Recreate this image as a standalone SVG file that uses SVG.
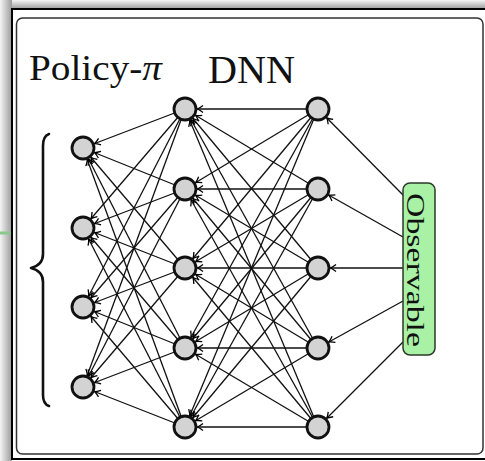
<svg xmlns="http://www.w3.org/2000/svg" width="485" height="461" viewBox="0 0 485 461">
<defs>
<linearGradient id="gt" x1="0" y1="0" x2="0" y2="1"><stop offset="0" stop-color="#f4f4f4"/><stop offset="1" stop-color="#9a9a9a"/></linearGradient>
<linearGradient id="gl" x1="0" y1="0" x2="1" y2="0"><stop offset="0" stop-color="#f4f4f4"/><stop offset="1" stop-color="#9a9a9a"/></linearGradient>
<marker id="ar" markerUnits="userSpaceOnUse" orient="auto" refX="0" refY="0" markerWidth="1" markerHeight="1" overflow="visible">
<path d="M -18 -3.5 Q -14.5 -0.8 -12.4 0 Q -14.5 0.8 -18 3.5" fill="none" stroke="#000" stroke-width="1.3"/>
</marker>
</defs>
<style>
.e line{stroke:#111;stroke-width:1.3;marker-end:url(#ar)}
.n{fill:#d3d3d3;stroke:#111;stroke-width:2.8}
.t{font-family:"Liberation Serif","DejaVu Serif",serif;fill:#111}
</style>
<rect x="0" y="0" width="485" height="461" fill="#fff"/>
<rect x="0" y="0" width="485" height="9" fill="url(#gt)"/>
<rect x="0" y="0" width="12" height="461" fill="url(#gl)"/>
<line x1="0" y1="233" x2="12" y2="233" stroke="#8cc88c" stroke-width="3"/>
<rect x="12" y="9" width="480" height="450" fill="#fff" stroke="#000" stroke-width="2"/>
<rect x="16.5" y="18" width="466.5" height="436" rx="6" fill="#fff" stroke="#333" stroke-width="1.5"/>

<g id="labels">
<text class="t" x="29" y="80" font-size="35" textLength="133" lengthAdjust="spacingAndGlyphs">Policy-<tspan font-style="italic">π</tspan></text>
<text class="t" x="208" y="83" font-size="40" textLength="87" lengthAdjust="spacingAndGlyphs">DNN</text>
</g>
<g id="brace">
<path d="M 49 134 Q 43 136 43 146 L 43 254 Q 43 265 31 268 Q 43 271 43 282 L 43 395 Q 43 404 49 406" fill="none" stroke="#111" stroke-width="2.6" stroke-linecap="round" stroke-linejoin="round"/>
</g>

<g id="connectors" class="e">
<line x1="318" y1="109" x2="185" y2="109"/><line x1="318" y1="109" x2="185" y2="189"/><line x1="318" y1="109" x2="185" y2="268"/><line x1="318" y1="109" x2="185" y2="348"/><line x1="318" y1="109" x2="185" y2="427"/>
<line x1="318" y1="189" x2="185" y2="109"/><line x1="318" y1="189" x2="185" y2="189"/><line x1="318" y1="189" x2="185" y2="268"/><line x1="318" y1="189" x2="185" y2="348"/><line x1="318" y1="189" x2="185" y2="427"/>
<line x1="318" y1="268" x2="185" y2="109"/><line x1="318" y1="268" x2="185" y2="189"/><line x1="318" y1="268" x2="185" y2="268"/><line x1="318" y1="268" x2="185" y2="348"/><line x1="318" y1="268" x2="185" y2="427"/>
<line x1="318" y1="348" x2="185" y2="109"/><line x1="318" y1="348" x2="185" y2="189"/><line x1="318" y1="348" x2="185" y2="268"/><line x1="318" y1="348" x2="185" y2="348"/><line x1="318" y1="348" x2="185" y2="427"/>
<line x1="318" y1="427" x2="185" y2="109"/><line x1="318" y1="427" x2="185" y2="189"/><line x1="318" y1="427" x2="185" y2="268"/><line x1="318" y1="427" x2="185" y2="348"/><line x1="318" y1="427" x2="185" y2="427"/>
<line x1="185" y1="109" x2="83" y2="148"/><line x1="185" y1="109" x2="83" y2="228"/><line x1="185" y1="109" x2="83" y2="307"/><line x1="185" y1="109" x2="83" y2="387"/>
<line x1="185" y1="189" x2="83" y2="148"/><line x1="185" y1="189" x2="83" y2="228"/><line x1="185" y1="189" x2="83" y2="307"/><line x1="185" y1="189" x2="83" y2="387"/>
<line x1="185" y1="268" x2="83" y2="148"/><line x1="185" y1="268" x2="83" y2="228"/><line x1="185" y1="268" x2="83" y2="307"/><line x1="185" y1="268" x2="83" y2="387"/>
<line x1="185" y1="348" x2="83" y2="148"/><line x1="185" y1="348" x2="83" y2="228"/><line x1="185" y1="348" x2="83" y2="307"/><line x1="185" y1="348" x2="83" y2="387"/>
<line x1="185" y1="427" x2="83" y2="148"/><line x1="185" y1="427" x2="83" y2="228"/><line x1="185" y1="427" x2="83" y2="307"/><line x1="185" y1="427" x2="83" y2="387"/>
<line x1="403" y1="195" x2="318" y2="109"/><line x1="403" y1="237" x2="318" y2="189"/><line x1="403" y1="268" x2="318" y2="268"/><line x1="403" y1="301" x2="318" y2="348"/><line x1="403" y1="342" x2="318" y2="427"/>
</g>

<g id="in1"><circle class="n" cx="83" cy="148" r="11"/></g>
<g id="in2"><circle class="n" cx="83" cy="228" r="11"/></g>
<g id="in3"><circle class="n" cx="83" cy="307" r="11"/></g>
<g id="in4"><circle class="n" cx="83" cy="387" r="11"/></g>
<g id="h1a"><circle class="n" cx="185" cy="109" r="11"/></g>
<g id="h1b"><circle class="n" cx="185" cy="189" r="11"/></g>
<g id="h1c"><circle class="n" cx="185" cy="268" r="11"/></g>
<g id="h1d"><circle class="n" cx="185" cy="348" r="11"/></g>
<g id="h1e"><circle class="n" cx="185" cy="427" r="11"/></g>
<g id="h2a"><circle class="n" cx="318" cy="109" r="11"/></g>
<g id="h2b"><circle class="n" cx="318" cy="189" r="11"/></g>
<g id="h2c"><circle class="n" cx="318" cy="268" r="11"/></g>
<g id="h2d"><circle class="n" cx="318" cy="348" r="11"/></g>
<g id="h2e"><circle class="n" cx="318" cy="427" r="11"/></g>

<g id="observable">
<rect x="403" y="183" width="32" height="172" rx="7" fill="#a9f2a5" stroke="#2a3a2a" stroke-width="1.5"/>
<text class="t" transform="translate(407,193) rotate(90)" font-size="26" textLength="154" lengthAdjust="spacingAndGlyphs">Observable</text>
</g>
</svg>
